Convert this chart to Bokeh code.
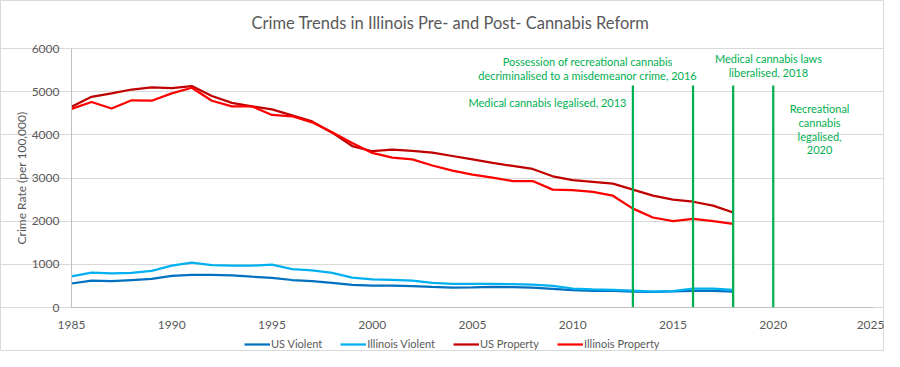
from bokeh.plotting import figure
from bokeh.models import Legend, LegendItem, Label, FixedTicker, Range1d, LinearAxis
from bokeh.embed import file_html
from bokeh.resources import INLINE

years = list(range(1985, 2019))
us_violent = [556, 620, 610, 637, 663, 732, 758, 758, 747, 714, 685, 637, 611, 568, 523, 507,
              504, 494, 476, 463, 469, 480, 472, 459, 432, 404, 387, 388, 368, 362, 373, 386, 383, 369]
il_violent = [720, 810, 790, 800, 850, 970, 1040, 980, 970, 970, 995, 890, 860, 800, 690, 650,
              640, 620, 570, 550, 550, 550, 540, 530, 500, 440, 420, 410, 390, 370, 380, 440, 440, 410]
us_property = [4650, 4880, 4960, 5050, 5100, 5080, 5130, 4900, 4740, 4660, 4590, 4450, 4310, 4050,
               3740, 3620, 3660, 3630, 3590, 3510, 3430, 3350, 3280, 3210, 3040, 2950, 2910, 2870,
               2730, 2590, 2500, 2450, 2360, 2200]
il_property = [4600, 4760, 4610, 4800, 4790, 4960, 5090, 4790, 4660, 4660, 4460, 4430, 4290, 4060,
               3810, 3580, 3470, 3430, 3290, 3170, 3080, 3010, 2930, 2930, 2730, 2720, 2680, 2590,
               2290, 2085, 2000, 2055, 2000, 1935]

reform_years = [2013, 2016, 2018, 2020]
reform_top = 5140

notes = ["Possession of recreational cannabis\ndecriminalised to a misdemeanor crime, 2016",
         "Medical cannabis legalised, 2013",
         "Medical cannabis laws\nliberalised, 2018",
         "Recreational\ncannabis\nlegalised,\n2020"]
note_x = [2010.74, 2008.74, 2019.76, 2022.31]
note_y = [5698, 4749, 5768, 4610]
note_line_step = 324

title_text = "Crime Trends in Illinois Pre- and Post- Cannabis Reform"
title_x, title_y = 2003.9, 6602

x_ticks = [1985, 1990, 1995, 2000, 2005, 2010, 2015, 2020, 2025]
y_ticks = [0, 1000, 2000, 3000, 4000, 5000, 6000]
x_min, x_max = 1985, 2025
y_min, y_max = 0, 6000

# page geometry (pixels): the frame covers the whole canvas, the plot area sits inside it
W, H = 884, 351
PL, PR, PT, PB = 71, 873, 48, 307
sx = (PR - PL) / (x_max - x_min)
sy = (PB - PT) / (y_max - y_min)
x_range = Range1d(x_min - PL / sx, x_max + (W - PR) / sx)
y_range = Range1d(y_min - (H - PB) / sy, y_max + PT / sy)

FONT = "Lato"
GREY = "#595959"
GREEN = "#00B050"

p = figure(frame_width=W, frame_height=H, output_backend="svg", toolbar_location=None,
           x_range=x_range, y_range=y_range, x_axis_location=None, y_axis_location=None,
           title_location=None, min_border=0)

p.outline_line_color = "#d9d9d9"
p.outline_line_width = 1
p.background_fill_color = "white"
p.border_fill_color = "white"

xaxis = LinearAxis(fixed_location=y_min, bounds=(x_min, x_max), ticker=FixedTicker(ticks=x_ticks))
yaxis = LinearAxis(fixed_location=x_min, bounds=(y_min, y_max), ticker=FixedTicker(ticks=y_ticks),
                   axis_label="Crime Rate (per 100,000)")
for ax in (xaxis, yaxis):
    ax.axis_line_color = "#bfbfbf"
    ax.axis_line_width = 1
    ax.major_tick_line_color = None
    ax.minor_tick_line_color = None
    ax.major_label_text_font = FONT
    ax.major_label_text_font_size = "12px"
    ax.major_label_text_color = GREY
    ax.major_label_standoff = 7
yaxis.major_label_standoff = 6
yaxis.axis_label_text_font = FONT
yaxis.axis_label_text_font_size = "12px"
yaxis.axis_label_text_font_style = "normal"
yaxis.axis_label_text_color = GREY
yaxis.axis_label_standoff = 0
p.add_layout(xaxis, "below")
p.add_layout(yaxis, "left")

p.xgrid.visible = False
p.ygrid.ticker = FixedTicker(ticks=y_ticks)
p.ygrid.bounds = (x_min, x_max)
p.ygrid.grid_line_color = "#d9d9d9"
p.ygrid.grid_line_width = 1

p.add_layout(Label(x=title_x, y=title_y, text=title_text, text_align="center",
                   text_baseline="middle", text_font=FONT, text_font_size="16.5px",
                   text_color=GREY))

r1 = p.line(years, us_violent, line_color="#0070C0", line_width=2.25)
r2 = p.line(years, il_violent, line_color="#00B0F0", line_width=2.25)
r3 = p.line(years, us_property, line_color="#C00000", line_width=2.25)
r4 = p.line(years, il_property, line_color="#FF0000", line_width=2.25)

p.segment(x0=reform_years, y0=[0] * len(reform_years), x1=reform_years,
          y1=[reform_top] * len(reform_years), line_color=GREEN, line_width=2.25)

for t, x, y in zip(notes, note_x, note_y):
    for i, line in enumerate(t.split("\n")):
        p.add_layout(Label(x=x, y=y - i * note_line_step, text=line, text_align="center",
                           text_baseline="middle", text_font=FONT, text_font_size="11px",
                           text_color=GREEN))

legend = Legend(items=[LegendItem(label="US Violent", renderers=[r1]),
                       LegendItem(label="Illinois Violent", renderers=[r2]),
                       LegendItem(label="US Property", renderers=[r3]),
                       LegendItem(label="Illinois Property", renderers=[r4])],
                orientation="horizontal", location=(244, 1),
                label_text_font=FONT, label_text_font_size="11px", label_text_color=GREY,
                glyph_width=26, glyph_height=12, label_standoff=1, spacing=18,
                border_line_color=None, background_fill_alpha=0, padding=2, margin=0)
p.add_layout(legend, "center")

open("out.html", "w").write(file_html(p, INLINE))
